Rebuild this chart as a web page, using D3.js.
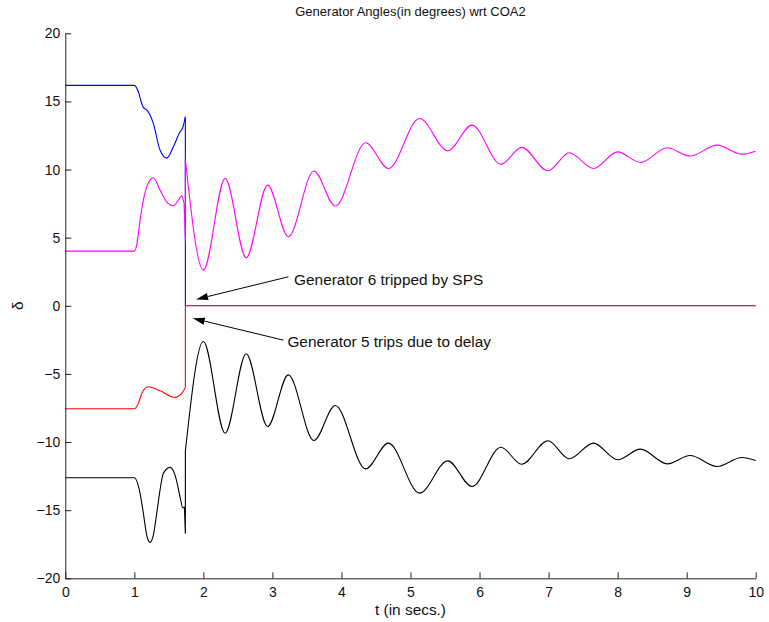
<!DOCTYPE html>
<html>
<head>
<meta charset="utf-8">
<script src="https://cdn.jsdelivr.net/npm/d3@7"></script>
<style>
  html, body { margin: 0; padding: 0; background: #fff; }
  svg { display: block; font-family: "Liberation Sans", Arial, Helvetica, sans-serif; }
</style>
</head>
<body>
<svg id="chart" width="769" height="622"></svg>
<script>
// Rotor angles of the generators (degrees, referred to COA2) over a 10 s simulation.
const xTicks = [0, 1, 2, 3, 4, 5, 6, 7, 8, 9, 10];
const yTicks = [-20, -15, -10, -5, 0, 5, 10, 15, 20];

// Generator 6 (blue): swing before the SPS trip, then held at zero
const blueBefore = [[0,16.18],[1.0,16.18],[1.058,15.71],[1.107,14.85],[1.13,14.56],[1.183,14.36],[1.275,13.39],[1.372,11.43],[1.469,10.84],[1.565,11.67],[1.662,12.77],[1.701,13.07],[1.739,13.87]];
const blueTrip = [[1.739,13.87],[1.739,0],[10,0]];

// Generator 5 (red): swing before the delayed trip, then held at zero
const redBefore = [[0,-7.56],[1.0,-7.56],[1.058,-7.16],[1.107,-6.43],[1.155,-6.06],[1.203,-5.94],[1.372,-6.24],[1.59,-6.72],[1.686,-6.43],[1.739,-5.99]];
const redTrip = [[1.739,-5.99],[1.739,0],[10,0]];

// Magenta machine
const magentaBefore = [[0,4.01],[1.0,4.01],[1.034,4.45],[1.083,6.29],[1.131,7.76],[1.179,8.73],[1.275,9.4],[1.372,8.49],[1.469,7.63],[1.565,7.34],[1.638,7.76],[1.686,8.07],[1.72,7.51]];
const magentaTrip = [[1.72,7.51],[1.739,4.70],[1.739,10.74]];
const magentaAfter = [[1.739,10.74],[2.0,2.62],[2.315,9.35],[2.62,3.52],[2.93,8.86],[3.23,5.07],[3.60,9.89],[3.91,7.32],[4.35,11.97],[4.68,10.08],[5.13,13.75],[5.54,11.38],[5.89,13.26],[6.31,10.38],[6.61,11.63],[6.99,9.91],[7.30,11.23],[7.65,10.08],[8.0,11.30],[8.33,10.52],[8.72,11.60],[9.05,10.99],[9.44,11.79],[9.80,11.13],[10.0,11.35]];

// Black machine
const blackBefore = [[0,-12.62],[1.0,-12.62],[1.083,-13.77],[1.131,-15.24],[1.179,-16.83],[1.227,-17.36],[1.275,-16.83],[1.324,-15.24],[1.372,-13.53],[1.42,-12.3],[1.517,-11.86],[1.59,-12.43],[1.662,-14.02],[1.701,-14.83],[1.725,-14.75]];
const blackTrip = [[1.725,-14.75],[1.739,-16.73],[1.739,-10.66]];
const blackAfter = [[1.739,-10.66],[2.0,-2.62],[2.315,-9.35],[2.62,-3.52],[2.93,-8.86],[3.23,-5.07],[3.60,-9.89],[3.91,-7.32],[4.35,-11.97],[4.68,-10.08],[5.13,-13.75],[5.54,-11.38],[5.89,-13.26],[6.31,-10.38],[6.61,-11.63],[6.99,-9.91],[7.30,-11.23],[7.65,-10.08],[8.0,-11.30],[8.33,-10.52],[8.72,-11.60],[9.05,-10.99],[9.44,-11.79],[9.80,-11.13],[10.0,-11.35]];

// Annotations: text anchor and arrow tail / tip, in (t, delta)
const notes = [
  { text: "Generator 6 tripped by SPS",    at: [3.314, 1.52],  tail: [3.232, 2.13],  tip: [1.894, 0.47] },
  { text: "Generator 5 trips due to delay", at: [3.217, -3.03], tail: [3.159, -2.52], tip: [1.846, -0.92] }
];

const svg = d3.select("#chart");
const plotLeft = 65.3, plotRight = 755.7, plotTop = 33.3, plotBottom = 578.3;

const x = d3.scaleLinear().domain([0, 10]).range([plotLeft, plotRight]);
const y = d3.scaleLinear().domain([-20, 20]).range([plotBottom, plotTop]);

const smooth = d3.line().x(d => x(d[0])).y(d => y(d[1])).curve(d3.curveMonotoneX);
const straight = d3.line().x(d => x(d[0])).y(d => y(d[1]));

const plot = svg.append("g").attr("fill", "none").attr("stroke-width", 1.1);

function draw(data, gen, colour, opacity) {
  plot.append("path").attr("d", gen(data)).attr("stroke", colour)
    .attr("stroke-opacity", opacity == null ? 1 : opacity);
}

// The tripped units: vertical drop to zero, then both lie on the zero line
draw(blueBefore, smooth, "#0000ff");
draw(blueTrip.slice(0, 2), straight, "#0000ff");
draw(redBefore, smooth, "#ff0000");
draw(redTrip.slice(0, 2), straight, "#ff0000");
draw(redTrip.slice(1), straight, "#ff0000");
draw(blueTrip.slice(1), straight, "#0000ff", 0.3);

draw(magentaBefore, smooth, "#ff00ff");
draw(magentaTrip, straight, "#ff00ff");
draw(magentaAfter, smooth, "#ff00ff");
draw(blackBefore, smooth, "#000000");
draw(blackTrip, straight, "#000000");
draw(blackAfter, smooth, "#000000");

// Axes with inward ticks
const xAxis = svg.append("g").attr("transform", `translate(0,${plotBottom})`)
  .call(d3.axisBottom(x).tickValues(xTicks).tickFormat(d3.format("d"))
    .tickSizeInner(-6).tickSizeOuter(0).tickPadding(9));
const yAxis = svg.append("g").attr("transform", `translate(${plotLeft},0)`)
  .call(d3.axisLeft(y).tickValues(yTicks).tickFormat(d3.format("d"))
    .tickSizeInner(-6).tickSizeOuter(0).tickPadding(5));

[xAxis, yAxis].forEach(a => {
  a.selectAll("text").attr("font-size", 14).attr("fill", "#111")
    .attr("font-family", "Liberation Sans, Arial, sans-serif");
  a.selectAll("line").attr("stroke", "#222");
  a.select(".domain").attr("stroke", "#222");
});

// Title and axis labels
svg.append("text").attr("x", (plotLeft + plotRight) / 2).attr("y", 16)
  .attr("text-anchor", "middle").attr("font-size", 13).attr("fill", "#111")
  .text("Generator Angles(in degrees) wrt COA2");

svg.append("text").attr("x", (plotLeft + plotRight) / 2).attr("y", 615)
  .attr("text-anchor", "middle").attr("font-size", 15.4).attr("fill", "#111")
  .text("t (in secs.)");

svg.append("text").attr("transform", `translate(23,${y(0)}) rotate(-90)`)
  .attr("text-anchor", "middle").attr("font-size", 15.4).attr("fill", "#111")
  .text("δ");

// Annotation arrows
const ann = svg.append("g");
notes.forEach(n => {
  const x0 = x(n.tail[0]), y0 = y(n.tail[1]);
  const x1 = x(n.tip[0]), y1 = y(n.tip[1]);
  const ang = Math.atan2(y1 - y0, x1 - x0);
  const len = 12, half = 3.6;
  const bx = x1 - len * Math.cos(ang), by = y1 - len * Math.sin(ang);
  ann.append("line").attr("x1", x0).attr("y1", y0).attr("x2", bx).attr("y2", by)
    .attr("stroke", "#000").attr("stroke-width", 1);
  const px = -Math.sin(ang) * half, py = Math.cos(ang) * half;
  ann.append("path")
    .attr("d", `M${x1},${y1}L${bx + px},${by + py}L${bx - px},${by - py}Z`)
    .attr("fill", "#000");
  ann.append("text").attr("x", x(n.at[0])).attr("y", y(n.at[1]))
    .attr("font-size", 15.4).attr("fill", "#111").text(n.text);
});
</script>
</body>
</html>
